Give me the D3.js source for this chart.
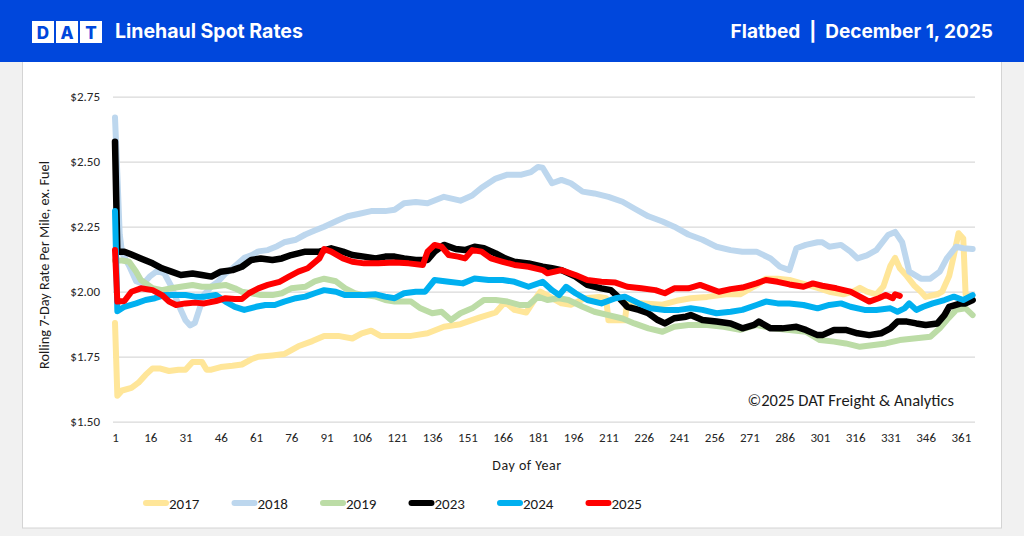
<!DOCTYPE html>
<html lang="en">
<head>
    <meta charset="UTF-8">
    <title>Linehaul Spot Rates - Flatbed</title>
    <script src="https://d3js.org/d3.v7.min.js"></script>
    <style>
        body { margin: 0; background: #f1f1f1; }
        .tick text { font-family: Carlito, Lato, sans-serif; font-size: 13px; fill: #262626; }
        .grid .tick line { stroke: #d9d9d9; stroke-width: 1.2px; }
        .label { font-family: Carlito, Lato, sans-serif; fill: #1a1a1a; }
        .head { font-family: Inter, "Open Sans", sans-serif; font-weight: 700; fill: #fff; }
    </style>
</head>
<body>
<svg width="1024" height="536"></svg>
<script>
    // days and values, per year
    const years = ["2017", "2018", "2019", "2023", "2024", "2025"];
    const colors = ["#FFE699", "#BDD7EE", "#BCDCA6", "#000000", "#00B0F0", "#FF0000"];

    const d2017 = [1,2,4,8,11,14,17,20,24,28,31,34,38,40,42,46,51,55,59,62,68,73,79,85,90,96,102,106,110,114,120,127,134,141,148,156,163,167,171,176,180,182,187,191,195,201,207,210,211,218,219,226,234,240,246,253,261,267,274,278,283,288,294,300,305,311,315,318,321,325,328,331,333,335,338,341,344,346,351,353,356,358,360,362,363,365];
    const v2017 = [1.88,1.60,1.62,1.63,1.65,1.68,1.705,1.705,1.695,1.70,1.70,1.73,1.73,1.70,1.70,1.71,1.715,1.72,1.74,1.75,1.755,1.76,1.79,1.81,1.83,1.83,1.82,1.84,1.85,1.83,1.83,1.83,1.84,1.865,1.875,1.90,1.92,1.96,1.93,1.92,1.975,2.00,1.975,1.955,1.95,1.975,1.98,1.975,1.89,1.89,1.96,1.955,1.95,1.965,1.975,1.98,1.99,1.99,2.025,2.05,2.05,2.045,2.03,2.015,2.00,1.99,2.00,2.015,2.00,1.99,2.02,2.10,2.13,2.09,2.06,2.025,2.00,1.98,1.99,2.00,2.06,2.14,2.225,2.205,1.99,1.98];

    const d2018 = [1,2,3,4,7,10,13,16,19,22,25,28,31,33,35,39,42,45,48,51,56,59,62,66,70,73,78,82,86,90,96,100,105,110,116,120,124,129,134,141,148,153,157,163,168,174,178,181,183,187,191,195,200,205,211,217,222,228,234,239,245,251,257,263,268,274,280,284,288,291,295,300,302,305,310,314,317,321,325,330,333,336,339,344,348,352,355,359,362,366];
    const v2018 = [2.67,2.45,2.22,2.15,2.10,2.04,2.03,2.06,2.08,2.07,2.02,1.95,1.89,1.87,1.88,1.99,2.02,2.04,2.07,2.09,2.13,2.14,2.155,2.16,2.175,2.19,2.20,2.22,2.235,2.25,2.275,2.29,2.30,2.31,2.31,2.315,2.34,2.345,2.34,2.365,2.35,2.37,2.40,2.435,2.45,2.45,2.46,2.48,2.477,2.417,2.43,2.417,2.385,2.378,2.365,2.346,2.32,2.29,2.27,2.25,2.22,2.20,2.173,2.16,2.154,2.154,2.128,2.096,2.083,2.167,2.18,2.19,2.19,2.173,2.18,2.154,2.128,2.14,2.16,2.218,2.23,2.19,2.077,2.05,2.05,2.077,2.128,2.173,2.167,2.164];

    const d2019 = [1,4,7,10,12,17,21,25,29,34,38,42,48,52,55,59,63,68,72,76,82,86,90,95,99,103,107,112,116,120,127,131,136,140,144,148,153,158,163,168,173,177,181,185,190,194,200,205,211,217,222,228,234,239,245,253,260,267,274,281,288,295,301,307,312,318,324,329,335,341,348,352,355,359,363,366];
    const v2019 = [2.12,2.12,2.115,2.077,2.045,2.013,2.006,2.013,2.019,2.026,2.019,2.019,2.026,2.013,2.00,1.994,1.987,1.987,1.994,2.013,2.019,2.04,2.05,2.04,2.013,1.994,1.987,1.981,1.968,1.962,1.962,1.936,1.917,1.923,1.891,1.917,1.936,1.968,1.968,1.962,1.949,1.949,1.981,1.968,1.975,1.968,1.942,1.923,1.91,1.897,1.878,1.859,1.846,1.865,1.872,1.872,1.865,1.853,1.872,1.859,1.853,1.846,1.814,1.808,1.801,1.788,1.795,1.801,1.814,1.82,1.827,1.859,1.891,1.93,1.936,1.91];

    const d2023 = [1,2,5,8,12,17,21,25,29,34,38,42,46,51,55,59,63,68,72,76,82,88,93,98,102,107,112,116,120,124,129,134,137,141,146,150,154,158,163,167,171,177,183,187,191,197,202,208,212,215,219,224,228,232,235,239,244,246,251,257,263,268,273,275,280,285,291,295,300,302,307,312,317,322,327,331,334,338,342,346,351,354,356,361,363,366];
    const v2023 = [2.577,2.154,2.154,2.143,2.128,2.109,2.09,2.077,2.064,2.07,2.064,2.058,2.077,2.083,2.096,2.122,2.128,2.122,2.128,2.141,2.154,2.154,2.167,2.154,2.141,2.135,2.128,2.135,2.135,2.128,2.122,2.122,2.154,2.18,2.164,2.16,2.173,2.167,2.147,2.128,2.115,2.109,2.096,2.09,2.083,2.058,2.026,2.013,2.006,1.981,1.942,1.93,1.917,1.891,1.878,1.898,1.904,1.91,1.891,1.885,1.878,1.859,1.872,1.885,1.859,1.859,1.865,1.853,1.833,1.833,1.853,1.853,1.84,1.833,1.84,1.859,1.885,1.885,1.878,1.872,1.878,1.91,1.942,1.955,1.955,1.968];

    const d2024 = [1,2,5,10,14,18,22,27,31,35,39,44,48,52,56,61,65,69,73,78,82,86,90,95,99,103,107,112,116,120,124,129,133,137,143,149,154,160,166,171,177,183,187,190,193,197,202,208,214,218,224,229,235,241,246,251,257,263,268,274,278,283,288,294,300,305,310,314,320,325,331,334,337,339,342,345,349,354,358,362,366];
    const v2024 = [2.31,1.925,1.942,1.955,1.968,1.975,1.987,1.987,1.987,1.981,1.981,1.987,1.962,1.942,1.93,1.942,1.949,1.949,1.962,1.975,1.981,1.994,2.006,2.00,1.987,1.987,1.987,1.99,1.981,1.975,1.994,2.00,2.00,2.045,2.038,2.032,2.051,2.045,2.045,2.038,2.019,2.038,2.006,1.987,2.019,1.994,1.968,1.955,1.975,1.981,1.955,1.936,1.93,1.93,1.936,1.93,1.917,1.923,1.93,1.949,1.962,1.955,1.955,1.949,1.936,1.949,1.955,1.942,1.93,1.93,1.936,1.923,1.936,1.955,1.93,1.942,1.955,1.968,1.981,1.968,1.987];

    const d2025 = [1,2,5,8,12,17,21,24,27,31,35,39,44,48,52,55,58,62,66,71,75,79,83,88,90,93,98,102,107,113,120,126,132,134,137,140,143,147,150,153,157,161,166,171,177,183,185,191,197,202,208,214,219,225,231,235,239,245,250,254,258,263,268,274,278,283,288,294,298,302,308,314,318,322,326,329,332,333,335];
    const v2025 = [2.16,1.962,1.964,2.00,2.013,2.006,1.987,1.962,1.949,1.955,1.958,1.955,1.964,1.975,1.972,1.972,1.994,2.013,2.026,2.038,2.058,2.077,2.09,2.128,2.164,2.154,2.128,2.115,2.109,2.109,2.112,2.109,2.103,2.154,2.18,2.173,2.141,2.135,2.128,2.16,2.154,2.128,2.115,2.103,2.096,2.083,2.071,2.083,2.064,2.045,2.038,2.035,2.019,2.013,2.006,1.994,2.013,2.013,2.026,2.013,2.00,2.01,2.016,2.032,2.045,2.038,2.028,2.019,2.032,2.023,2.013,2.00,1.981,1.962,1.975,1.987,1.975,1.99,1.984];

    const yTicks = [1.50, 1.75, 2.00, 2.25, 2.50, 2.75];
    const xTicks = d3.range(1, 362, 15);

    const series = [
        {days: d2017, vals: v2017},
        {days: d2018, vals: v2018},
        {days: d2019, vals: v2019},
        {days: d2023, vals: v2023},
        {days: d2024, vals: v2024},
        {days: d2025, vals: v2025}
    ].map((s, i) => ({year: years[i], color: colors[i], pts: s.days.map((d, j) => [d, s.vals[j]])}));

    const svg = d3.select("svg");

    // page frame
    svg.append("rect").attr("x", 22.5).attr("y", 60).attr("width", 979).attr("height", 468)
        .attr("fill", "#fff").attr("stroke", "#d4d4d4");

    // header band
    svg.append("rect").attr("x", 0).attr("y", 0).attr("width", 1024).attr("height", 62).attr("fill", "#0047DC");
    ["D", "A", "T"].forEach((c, i) => {
        svg.append("rect").attr("x", 32 + i * 24).attr("y", 21).attr("width", 22).attr("height", 22).attr("fill", "#fff");
        svg.append("text").attr("x", 43 + i * 24).attr("y", 38.5).attr("text-anchor", "middle")
            .attr("font-family", "Inter, sans-serif").attr("font-weight", 800).attr("font-size", 17)
            .attr("fill", "#0047DC").text(c);
    });
    svg.append("text").attr("class", "head").attr("x", 115).attr("y", 38).attr("font-size", 19.5).text("Linehaul Spot Rates");
    svg.append("text").attr("class", "head").attr("x", 993).attr("y", 38).attr("font-size", 19)
        .attr("text-anchor", "end").attr("xml:space", "preserve").text("Flatbed  |  December 1, 2025");

    // scales
    const x = d3.scaleLinear().domain([0, 367]).range([112.65, 975]);
    const y = d3.scaleLinear().domain([1.5, 2.75]).range([421.7, 96.7]);

    const yAxis = svg.append("g").attr("class", "grid").attr("transform", "translate(113,0)")
        .call(d3.axisLeft(y).tickValues(yTicks).tickFormat(d => "$" + d.toFixed(2))
            .tickSize(-(975 - 113)).tickPadding(13));
    yAxis.select(".domain").remove();

    const xAxis = svg.append("g").attr("transform", "translate(0,421.7)")
        .call(d3.axisBottom(x).tickValues(xTicks).tickFormat(d3.format("d")).tickSize(0).tickPadding(11));
    xAxis.select(".domain").remove();

    // lines
    const line = d3.line().x(d => x(d[0])).y(d => y(d[1]));
    svg.append("g").selectAll("path")
        .data(series)
        .enter().append("path")
        .attr("d", d => line(d.pts))
        .attr("fill", "none")
        .attr("stroke", d => d.color)
        .attr("stroke-width", d => d.year === "2023" ? 6.5 : 6)
        .attr("stroke-linejoin", "round")
        .attr("stroke-linecap", "round");

    // axis titles
    svg.append("text").attr("class", "label").attr("font-size", 14.3).attr("text-anchor", "middle")
        .attr("transform", "translate(49,265) rotate(-90)").text("Rolling 7-Day Rate Per Mile, ex. Fuel");
    svg.append("text").attr("class", "label").attr("font-size", 14).attr("letter-spacing", 0.5)
        .attr("text-anchor", "middle").attr("x", 527).attr("y", 470).text("Day of Year");

    svg.append("text").attr("class", "label").attr("font-size", 16.5).attr("text-anchor", "end")
        .attr("x", 954).attr("y", 406).text("\u00A92025 DAT Freight & Analytics");

    // legend
    const legend = svg.append("g").selectAll("g")
        .data(series)
        .enter().append("g")
        .attr("transform", (d, i) => `translate(${146 + i * 88.5},503)`);
    legend.append("line").attr("x1", 0).attr("x2", 20).attr("y1", 0).attr("y2", 0)
        .attr("stroke", d => d.color).attr("stroke-width", 6).attr("stroke-linecap", "round");
    legend.append("text").attr("class", "label").attr("x", 23).attr("y", 5.5).attr("font-size", 15)
        .text(d => d.year);
</script>
</body>
</html>
